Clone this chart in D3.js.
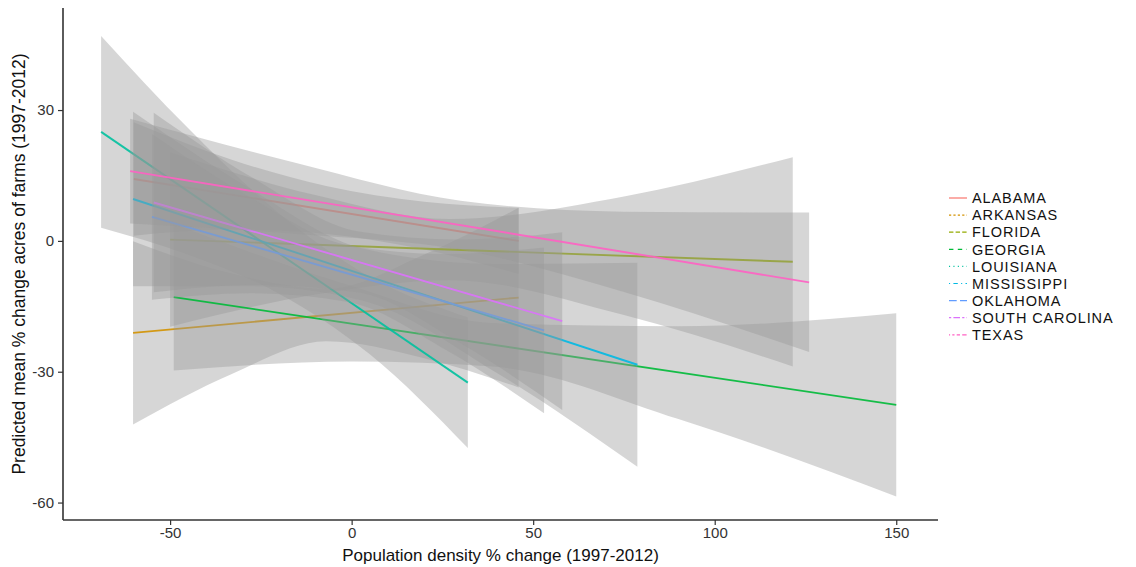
<!DOCTYPE html>
<html>
<head>
<meta charset="utf-8">
<script src="https://cdn.jsdelivr.net/npm/d3@7"></script>
<style>
  html, body { margin: 0; padding: 0; background: #fff; }
  svg { display: block; font-family: "Liberation Sans", Arial, sans-serif; }
</style>
</head>
<body>
<svg id="chart" width="1136" height="567"></svg>
<script>
// ---------- data ----------
const states = ["ALABAMA","ARKANSAS","FLORIDA","GEORGIA","LOUISIANA","MISSISSIPPI","OKLAHOMA","SOUTH CAROLINA","TEXAS"];
const colors = ["#F8766D","#D39200","#93AA00","#00BA38","#00C19F","#00B9E3","#619CFF","#DB72FB","#FF61C3"];
const linetypes = ["solid","22","42","44","13","1343","73","2262","12223242"];

// fitted line end points (x: population density % change, y: predicted % change)
const xStart = [-60, -60.2, -50, -49, -69, -60.2, -55, -54.5, -61];
const xEnd   = [ 46,  46, 121.5, 150,  32,  78.7,  53,  58, 126];
const yStart = [14.2, -21.1, 0.3, -12.9, 25, 9.6, 5.5, 8.8, 16];
const yEnd   = [ 0.0, -13.0, -4.8, -37.6, -32.5, -28.4, -20.5, -18.4, -9.5];

// confidence band: x positions, lower and upper bounds
const bandX = [
  [-60, -33, -7, 20, 46],
  [-60.2, -33, -7, 20, 46],
  [-50, -10, 27, 75, 121.5],
  [-49, 0, 38.6, 90, 150],
  [-69, -45, -20, 5, 32],
  [-60.2, -28, 3.4, 40, 78.7],
  [-55, -28, -1, 26, 53],
  [-54.5, -27, 2, 30, 58],
  [-61, -15, 30, 75, 126]
];
const bandLo = [
  [1.2, 2.6, 1.6, -2, -7.6],
  [-42.1, -30.5, -23, -26.9, -33.6],
  [-19.7, -12.3, -9, -17, -28.8],
  [-29.7, -27.65, -28.8, -40.85, -58.6],
  [3, -3.2, -12.1, -26, -47.5],
  [-10.4, -10.4, -13.8, -30.3, -51.8],
  [-13.5, -12, -14, -25, -39.5],
  [-11.8, -10.05, -11.86, -23.5, -38.8],
  [4, 1.6, -2.0, -11.7, -25.5]
];
const bandHi = [
  [27.2, 18.6, 12.6, 9, 7.6],
  [-0.1, -7.5, -11, -3.1, 7.6],
  [20.3, 10.5, 5, 10.2, 19.2],
  [3.9, -10.35, -18.8, -19.55, -16.6],
  [47, 25.8, 6.3, -8.2, -17.5],
  [29.6, 12, -1.8, -5.3, -5],
  [24.5, 10, -1, -3, -1.5],
  [29.4, 14.35, 2.14, 0.3, 2.0],
  [28, 17.8, 9.2, 6.7, 6.5]
];

const xTicks = [-50, 0, 50, 100, 150];
const yTicks = [-60, -30, 0, 30];
const xTitle = "Population density % change (1997-2012)";
const yTitle = "Predicted mean % change acres of farms (1997-2012)";

// ---------- layout ----------
const svg = d3.select("#chart");
const panel = { left: 63, right: 938, top: 8, bottom: 520 };
const x = d3.scaleLinear().domain([-79.5, 161.5]).range([panel.left, panel.right]);
const y = d3.scaleLinear().domain([-64, 53.4]).range([panel.bottom, panel.top]);

const lwd = 1.9;
function dash(lt, unit) {
  if (lt === "solid") return null;
  return lt.split("").map(c => parseInt(c, 16) * unit).join(",");
}

const area = d3.area()
  .x(d => x(d[0])).y0(d => y(d[1])).y1(d => y(d[2]))
  .curve(d3.curveMonotoneX);
const line = d3.line().x(d => x(d[0])).y(d => y(d[1]));

const plot = svg.append("g");
states.forEach((s, i) => {
  const band = bandX[i].map((bx, j) => [bx, bandLo[i][j], bandHi[i][j]]);
  plot.append("path")
    .attr("d", area(band))
    .attr("fill", "#999999")
    .attr("fill-opacity", 0.4);
  plot.append("path")
    .attr("d", line([[xStart[i], yStart[i]], [xEnd[i], yEnd[i]]]))
    .attr("fill", "none")
    .attr("stroke", colors[i])
    .attr("stroke-width", lwd)
    .attr("stroke-opacity", 0.9);
});

// ---------- axes ----------
const fmt = d => String(d);
const xAxis = d3.axisBottom(x).tickValues(xTicks).tickFormat(fmt).tickSize(5).tickPadding(2).tickSizeOuter(0);
const yAxis = d3.axisLeft(y).tickValues(yTicks).tickFormat(fmt).tickSize(5).tickPadding(4).tickSizeOuter(0);

const gx = svg.append("g").attr("transform", `translate(0,${panel.bottom})`).call(xAxis);
const gy = svg.append("g").attr("transform", `translate(${panel.left},0)`).call(yAxis);
[gx, gy].forEach(g => {
  g.select(".domain").remove();
  g.selectAll(".tick line").attr("stroke", "#333").attr("stroke-width", 1.2);
  g.selectAll(".tick text").attr("fill", "#333").style("font-size", "15px")
    .style("font-family", "'Liberation Sans', Arial, sans-serif");
});
// axis lines
svg.append("line").attr("x1", panel.left).attr("x2", panel.right)
  .attr("y1", panel.bottom).attr("y2", panel.bottom)
  .attr("stroke", "#333").attr("stroke-width", 1.6);
svg.append("line").attr("x1", panel.left).attr("x2", panel.left)
  .attr("y1", panel.top).attr("y2", panel.bottom)
  .attr("stroke", "#333").attr("stroke-width", 1.6);

svg.append("text")
  .attr("x", (panel.left + panel.right) / 2).attr("y", 561)
  .attr("text-anchor", "middle").attr("fill", "#111")
  .style("font-size", "17px").text(xTitle);
svg.append("text")
  .attr("transform", `translate(25,${(panel.top + panel.bottom) / 2}) rotate(-90)`)
  .attr("text-anchor", "middle").attr("fill", "#111")
  .style("font-size", "17.5px").text(yTitle);

// ---------- legend ----------
const leg = svg.append("g").attr("transform", "translate(948,198)");
states.forEach((s, i) => {
  const g = leg.append("g").attr("transform", `translate(0,${i * 17.1})`);
  g.append("line").attr("x1", 1).attr("x2", 19).attr("y1", 0).attr("y2", 0)
    .attr("stroke", colors[i]).attr("stroke-width", 1.2)
    .attr("stroke-dasharray", dash(linetypes[i], 1.1));
  g.append("text").attr("x", 24).attr("y", 0).attr("dy", "0.36em")
    .attr("fill", "#111").style("font-size", "14.5px")
    .style("letter-spacing", "0.9px").text(s);
});
</script>
</body>
</html>
